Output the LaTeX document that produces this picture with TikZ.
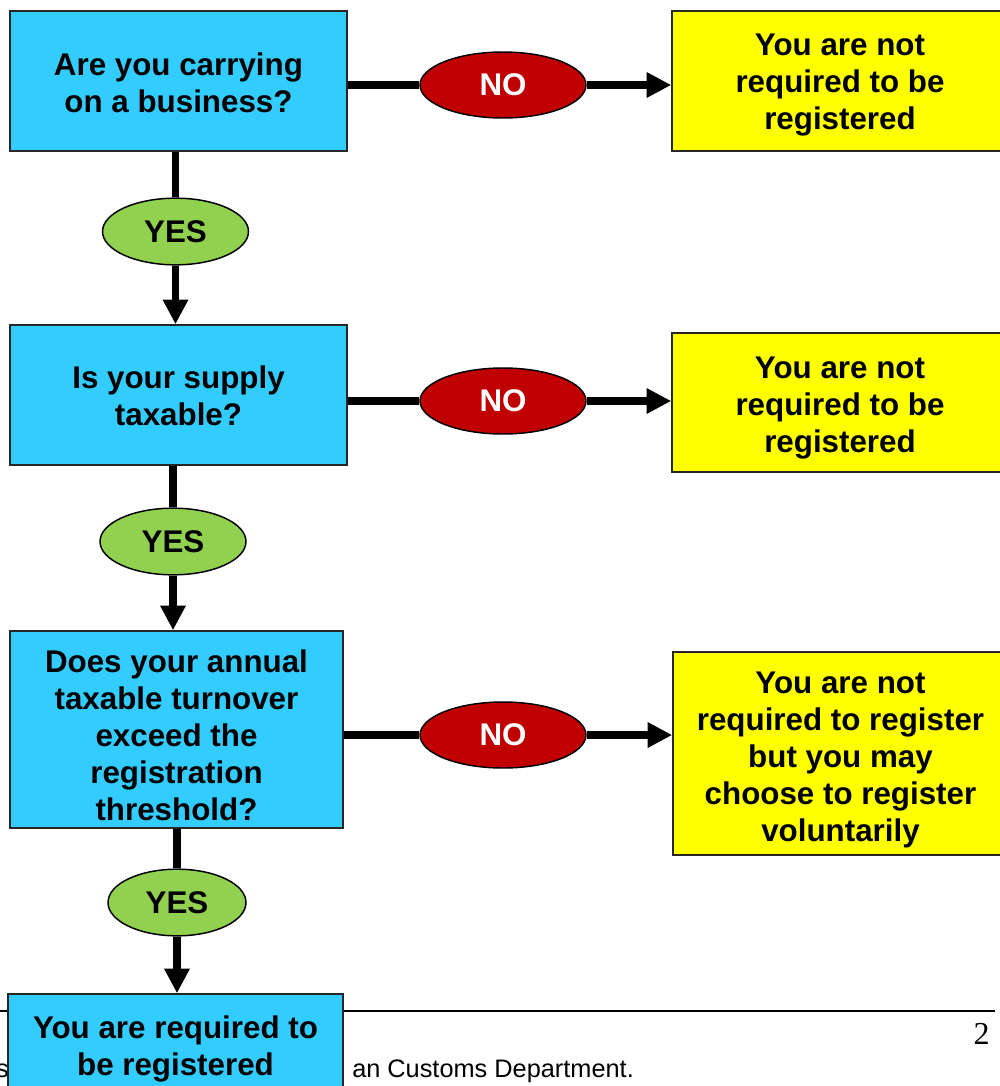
\documentclass[tikz,border=0pt]{standalone}
\usepackage{fontspec}
\setmainfont{Liberation Sans}
\newfontfamily\pagenumfont{Liberation Serif}
\usetikzlibrary{shapes.geometric,arrows.meta}
\definecolor{qblue}{HTML}{33CCFF}
\definecolor{ayellow}{HTML}{FFFF00}
\definecolor{nored}{HTML}{C00000}
\definecolor{yesgreen}{HTML}{92D050}
\begin{document}
\begin{tikzpicture}[x=0.75pt,y=-0.75pt,
  boxtext/.style={align=center,font=\bfseries\fontsize{23.5}{27.75}\selectfont,inner sep=0pt},
  qbox/.style={draw=black!85,line width=1.1pt,fill=qblue,minimum width=252.75pt,minimum height=105pt,inner sep=0pt},
  abox/.style={draw=black!85,line width=1.1pt,fill=ayellow,minimum width=252pt,minimum height=105pt,inner sep=0pt},
  boxlabel/.style 2 args={label={[boxtext,yshift=#1]center:{#2}}},
  noel/.style={ellipse,draw=black,line width=1.1pt,fill=nored,text=white,font=\bfseries\fontsize{23.5}{27.75}\selectfont,minimum width=124.5pt,minimum height=49.5pt,inner sep=0pt},
  yesel/.style={ellipse,draw=black,line width=1.1pt,fill=yesgreen,font=\bfseries\fontsize{23.5}{27.75}\selectfont,minimum width=109.5pt,minimum height=50pt,inner sep=0pt},
  flow/.style={line width=5.5pt},
  arr/.style={flow,-{Triangle[length=18.5pt,width=18pt]}}]
\useasboundingbox (0,0) rectangle (1000,1086);

% footer rule, page number and footer text (partly covered by the last box)
\draw[line width=1.5pt] (0,1011) coordinate (ruleL) -- (995,1011) coordinate (ruleR);
\node[anchor=base east,font=\pagenumfont\fontsize{24}{28}\selectfont,inner sep=0pt] (pnum) at (990,1044) {2};
\node[anchor=base east,font=\fontsize{19}{23}\selectfont,inner sep=0pt] (footA) at (9,1077) {s};
\node[anchor=base west,font=\fontsize{19}{23}\selectfont,inner sep=0pt] (footB) at (352,1077) {an Customs Department.};

% question boxes
\node[qbox,boxlabel={-1.2pt}{Are you carrying\\on a business?}] (q1) at (178.5,81) {};
\node[qbox,boxlabel={-0.6pt}{Is your supply\\taxable?}] (q2) at (178.5,395) {};
\node[qbox,minimum width=249.75pt,minimum height=147.75pt,
      boxlabel={-4.5pt}{Does your annual\\taxable turnover\\exceed the\\registration\\threshold?}] (q3) at (176.5,729.5) {};
\node[qbox,minimum width=251.25pt,minimum height=79.5pt,
      boxlabel={-1.2pt}{You are required to\\be registered}] (q4) at (175.5,1047) {};

% answer boxes
\node[abox,boxlabel={-3pt}{You are not\\required to be\\registered}] (a1) at (840,81) {};
\node[abox,minimum height=104.25pt,boxlabel={-4.5pt}{You are not\\required to be\\registered}] (a2) at (840,402.5) {};
\node[abox,minimum width=251.25pt,minimum height=152.25pt,
      boxlabel={-5pt}{You are not\\required to register\\but you may\\choose to register\\voluntarily}] (a3) at (840.5,753.5) {};

% NO ellipses
\node[noel] (n1) at (503,85) {NO};
\node[noel] (n2) at (503,401) {NO};
\node[noel] (n3) at (503,735) {NO};

% YES ellipses
\node[yesel] (y1) at (175.5,231.5) {YES};
\node[yesel] (y2) at (173,541.5) {YES};
\node[yesel,minimum width=103.5pt] (y3) at (177,902.5) {YES};

% NO branches
\draw[flow] (q1.east |- n1) -- (n1.west);
\draw[arr] (n1.east) -- (a1.west |- n1);
\draw[flow] (q2.east |- n2) -- (n2.west);
\draw[arr] (n2.east) -- (a2.west |- n2);
\draw[flow] (q3.east |- n3) -- (n3.west);
\draw[arr] (n3.east) -- (a3.west |- n3);

% YES branches
\draw[flow] (y1.north |- q1.south) -- (y1.north);
\draw[arr] (y1.south) -- (y1.south |- q2.north);
\draw[flow] (y2.north |- q2.south) -- (y2.north);
\draw[arr] (y2.south) -- (y2.south |- q3.north);
\draw[flow] (y3.north |- q3.south) -- (y3.north);
\draw[arr] (y3.south) -- (y3.south |- q4.north);
\end{tikzpicture}
\end{document}
